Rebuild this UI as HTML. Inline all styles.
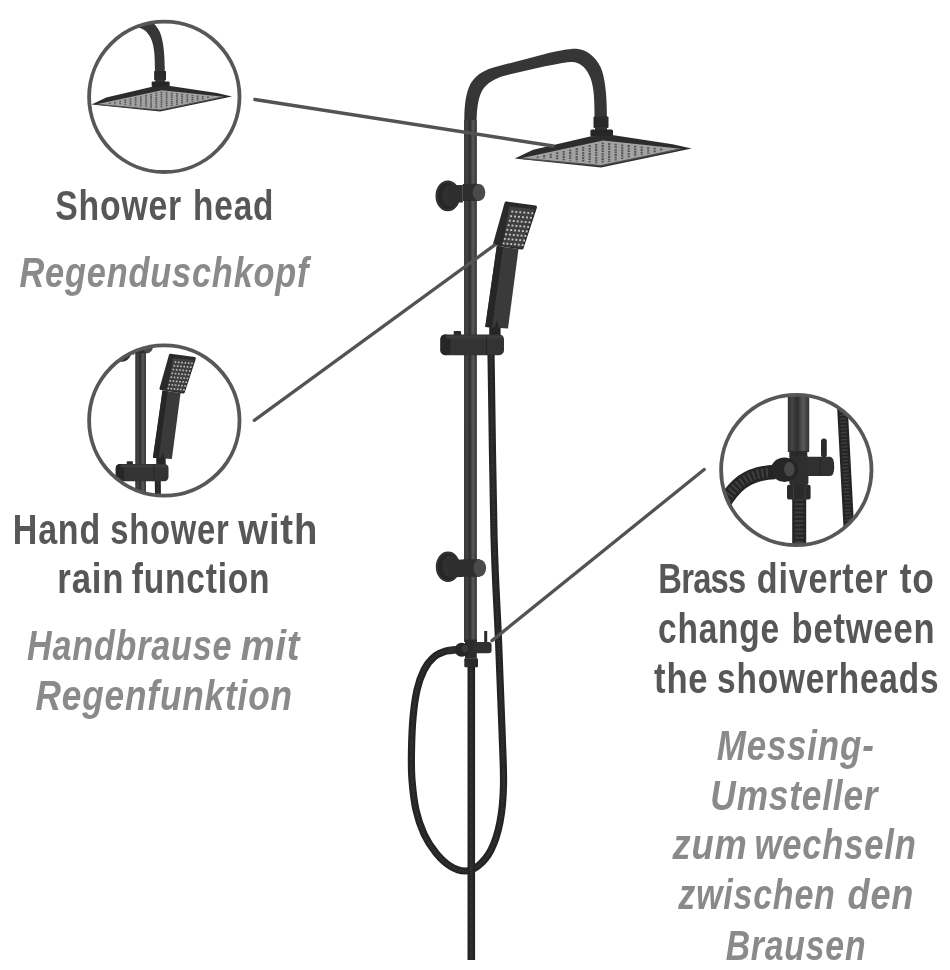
<!DOCTYPE html>
<html><head><meta charset="utf-8">
<style>
html,body{margin:0;padding:0;background:#fff;width:950px;height:970px;overflow:hidden}
svg{display:block;will-change:transform}
.b{font-family:"Liberation Sans",sans-serif;font-weight:bold;font-size:42px;fill:#575757}
.i{font-family:"Liberation Sans",sans-serif;font-style:italic;font-weight:bold;font-size:42px;fill:#8a8a8a}
</style></head>
<body>
<svg width="950" height="970" viewBox="0 0 950 970">
<defs>
  <linearGradient id="pipeg" x1="0" x2="1" y1="0" y2="0">
    <stop offset="0" stop-color="#303030"/>
    <stop offset="0.2" stop-color="#454545"/>
    <stop offset="0.45" stop-color="#2e2e2e"/>
    <stop offset="0.72" stop-color="#5a5a5a"/>
    <stop offset="0.92" stop-color="#3c3c3c"/>
    <stop offset="1" stop-color="#333333"/>
  </linearGradient>

  <g id="product">
   <g id="hoses">
    <!-- hoses -->
    <path d="M491.0,352.0 C491.5,382.5 492.8,487.0 494.0,535.0 C495.2,583.0 497.2,607.5 498.5,640.0 C499.8,672.5 501.2,705.8 502.0,730.0 C502.8,754.2 503.8,769.7 503.5,785.0 C503.2,800.3 502.1,811.2 500.0,822.0 C497.9,832.8 494.7,842.7 491.0,850.0 C487.3,857.3 482.3,862.5 478.0,866.0 C473.7,869.5 469.7,871.0 465.0,871.0 C460.3,871.0 454.8,869.0 450.0,866.0 C445.2,863.0 440.3,858.3 436.0,853.0 C431.7,847.7 427.3,841.2 424.0,834.0 C420.7,826.8 418.0,819.0 416.0,810.0 C414.0,801.0 412.8,790.0 412.0,780.0 C411.2,770.0 411.3,760.3 411.5,750.0 C411.7,739.7 412.1,728.0 413.0,718.0 C413.9,708.0 415.2,698.0 417.0,690.0 C418.8,682.0 421.2,675.5 424.0,670.0 C426.8,664.5 430.3,660.2 434.0,657.0 C437.7,653.8 442.2,652.2 446.0,651.0 C449.8,649.8 455.2,649.8 457.0,649.5" fill="none" stroke="#232323" stroke-width="7.2"/>
    <path d="M491.0,352.0 C491.5,382.5 492.8,487.0 494.0,535.0 C495.2,583.0 497.2,607.5 498.5,640.0 C499.8,672.5 501.2,705.8 502.0,730.0 C502.8,754.2 503.8,769.7 503.5,785.0 C503.2,800.3 502.1,811.2 500.0,822.0 C497.9,832.8 494.7,842.7 491.0,850.0 C487.3,857.3 482.3,862.5 478.0,866.0 C473.7,869.5 469.7,871.0 465.0,871.0 C460.3,871.0 454.8,869.0 450.0,866.0 C445.2,863.0 440.3,858.3 436.0,853.0 C431.7,847.7 427.3,841.2 424.0,834.0 C420.7,826.8 418.0,819.0 416.0,810.0 C414.0,801.0 412.8,790.0 412.0,780.0 C411.2,770.0 411.3,760.3 411.5,750.0 C411.7,739.7 412.1,728.0 413.0,718.0 C413.9,708.0 415.2,698.0 417.0,690.0 C418.8,682.0 421.2,675.5 424.0,670.0 C426.8,664.5 430.3,660.2 434.0,657.0 C437.7,653.8 442.2,652.2 446.0,651.0 C449.8,649.8 455.2,649.8 457.0,649.5" fill="none" stroke="#3c3c3c" stroke-width="3" stroke-dasharray="0.9 1.1" opacity="0.8"/>
    <path d="M471.3,664 L471.3,960" fill="none" stroke="#232323" stroke-width="7.6"/>
    <path d="M471.3,664 L471.3,960" fill="none" stroke="#3c3c3c" stroke-width="3" stroke-dasharray="0.9 1.1" opacity="0.8"/>
    <path d="M448,650.8 L458,649.6" stroke="#2e2e2e" stroke-width="7.4"/>
   </g>
   <g id="armhead">
    <!-- main pipe + arm -->
    <path d="M464.2,642 L464.3,120 C464.4,104 466,92 471,83 C477,74 485,69.5 497,66.5 L545,54 C558,51 568,48.8 576,48.8 C586,49.3 595,56 600.5,67 C605,77 606.9,94 606.9,117 L594.5,117 C594.5,99 594,88 590.5,78 C587,69 581,62.5 573,62 C566,62 557,64 545,66.3 L505.5,75.4 C495,78 487,83 482.5,90 C478.5,97 477,106 476.6,120 L476.6,642 Z" fill="#363636"/>
    <rect x="464.2" y="120" width="12.4" height="522" fill="url(#pipeg)"/>
    <!-- top nut -->
    <rect x="593.5" y="116.4" width="15" height="11.6" rx="1" fill="#2a2a2a"/>
    <rect x="595" y="127" width="12" height="4" fill="#333"/>
    <rect x="590.4" y="129.5" width="22.6" height="7" rx="1.5" fill="#262626"/>
    <!-- shower head -->
    <polygon points="514.7,158.5 533.2,149.7 591,136.2 613.7,135.2 672.6,144.2 691.6,148.4 601,167.4" fill="#2c2c2c"/>
    <polygon points="521,158.3 603,140.6 681,148.8 601,165.6" fill="#a2a2a2"/>
    <g stroke="#555555" stroke-width="2.2" stroke-dasharray="1.8 0.8">
<line x1="537.7" y1="156.5" x2="537.7" y2="157.8"/>
<line x1="544.2" y1="155.1" x2="544.2" y2="158.4"/>
<line x1="550.7" y1="153.7" x2="550.7" y2="159.0"/>
<line x1="557.2" y1="152.3" x2="557.2" y2="159.6"/>
<line x1="563.7" y1="150.9" x2="563.7" y2="160.2"/>
<line x1="570.2" y1="149.5" x2="570.2" y2="160.8"/>
<line x1="576.7" y1="148.1" x2="576.7" y2="161.4"/>
<line x1="583.2" y1="146.7" x2="583.2" y2="162.0"/>
<line x1="589.7" y1="145.3" x2="589.7" y2="162.6"/>
<line x1="596.2" y1="143.9" x2="596.2" y2="163.2"/>
<line x1="602.7" y1="142.5" x2="602.7" y2="163.2"/>
<line x1="609.2" y1="143.1" x2="609.2" y2="161.9"/>
<line x1="615.7" y1="143.7" x2="615.7" y2="160.5"/>
<line x1="622.2" y1="144.4" x2="622.2" y2="159.1"/>
<line x1="628.7" y1="145.1" x2="628.7" y2="157.8"/>
<line x1="635.2" y1="145.8" x2="635.2" y2="156.4"/>
<line x1="641.7" y1="146.5" x2="641.7" y2="155.1"/>
<line x1="648.2" y1="147.2" x2="648.2" y2="153.7"/>
<line x1="654.7" y1="147.8" x2="654.7" y2="152.3"/>
<line x1="661.2" y1="148.5" x2="661.2" y2="151.0"/>
    </g>
    <polyline points="521,158.3 601,165.6 681,148.8" fill="none" stroke="#505050" stroke-width="1.2"/>
   </g>
   <g id="rest">
    <!-- upper bracket -->
    <ellipse cx="447.8" cy="195.9" rx="12.3" ry="15.4" fill="#262626"/>
    <ellipse cx="447.8" cy="195.9" rx="11" ry="14" fill="none" stroke="#3c3c3c" stroke-width="1"/>
    <ellipse cx="450" cy="195.5" rx="8" ry="11" fill="#303030"/>
    <path d="M447.8,185.3 L462.8,185 L462.8,202.4 L447.8,202.6 Z" fill="#2e2e2e"/>
    <path d="M462.8,183.9 L479,183.9 L479,201 L462.8,201 Z" fill="#2e2e2e"/>
    <ellipse cx="479" cy="192.4" rx="6.3" ry="8.5" fill="#4a4a4a"/>
    <!-- lower bracket -->
    <ellipse cx="448" cy="566.8" rx="12.2" ry="15.3" fill="#262626"/>
    <ellipse cx="448" cy="566.8" rx="11" ry="14" fill="none" stroke="#3c3c3c" stroke-width="1"/>
    <ellipse cx="450.2" cy="566.4" rx="8" ry="11" fill="#303030"/>
    <path d="M448,559.8 L463,559.6 L463,577 L448,577.2 Z" fill="#2e2e2e"/>
    <path d="M463,559.2 L480,559.2 L480,576.8 L463,576.8 Z" fill="#2e2e2e"/>
    <ellipse cx="479.8" cy="568" rx="6.3" ry="8.6" fill="#4a4a4a"/>
    <!-- hand shower handle -->
    <rect x="489.2" y="326" width="11.4" height="13" fill="#262626"/>
    <polygon points="496.8,246 518.5,249 508,328.4 485.2,327" fill="#3a3a3a"/>
    <polygon points="496.8,246 503,246.8 492,327.6 485.2,327" fill="#262626"/>
    <path d="M494.5,328 L497,320 L499,328 Z" fill="#262626"/>
    <!-- hand shower head -->
    <path d="M506.5,201.6 L535.6,205.6 Q537.4,206 536.8,208 L523.5,248.3 Q523,249.8 521.5,249.6 L494.5,245.3 Q492.8,245 493.2,243.3 L504.5,203 Q505,201.4 506.5,201.6 Z" fill="#2a2a2a"/>
    <polygon points="509.4,206.6 534.5,209.2 522,247.8 502.6,245.2" fill="#404040"/>
    <rect x="511.35" y="210.65" width="1.9" height="1.9" fill="#c4c4c4"/>
<rect x="515.35" y="210.99" width="1.9" height="1.9" fill="#c4c4c4"/>
<rect x="519.35" y="211.33" width="1.9" height="1.9" fill="#c4c4c4"/>
<rect x="523.35" y="211.67" width="1.9" height="1.9" fill="#c4c4c4"/>
<rect x="527.35" y="212.01" width="1.9" height="1.9" fill="#c4c4c4"/>
<rect x="531.35" y="212.35" width="1.9" height="1.9" fill="#c4c4c4"/>
<rect x="510.11" y="215.19" width="1.9" height="1.9" fill="#c4c4c4"/>
<rect x="514.08" y="215.53" width="1.9" height="1.9" fill="#c4c4c4"/>
<rect x="518.05" y="215.87" width="1.9" height="1.9" fill="#c4c4c4"/>
<rect x="522.02" y="216.20" width="1.9" height="1.9" fill="#c4c4c4"/>
<rect x="525.99" y="216.54" width="1.9" height="1.9" fill="#c4c4c4"/>
<rect x="529.96" y="216.88" width="1.9" height="1.9" fill="#c4c4c4"/>
<rect x="508.86" y="219.74" width="1.9" height="1.9" fill="#c4c4c4"/>
<rect x="512.81" y="220.07" width="1.9" height="1.9" fill="#c4c4c4"/>
<rect x="516.75" y="220.40" width="1.9" height="1.9" fill="#c4c4c4"/>
<rect x="520.69" y="220.74" width="1.9" height="1.9" fill="#c4c4c4"/>
<rect x="524.64" y="221.07" width="1.9" height="1.9" fill="#c4c4c4"/>
<rect x="528.58" y="221.41" width="1.9" height="1.9" fill="#c4c4c4"/>
<rect x="507.62" y="224.28" width="1.9" height="1.9" fill="#c4c4c4"/>
<rect x="511.54" y="224.61" width="1.9" height="1.9" fill="#c4c4c4"/>
<rect x="515.45" y="224.94" width="1.9" height="1.9" fill="#c4c4c4"/>
<rect x="519.36" y="225.27" width="1.9" height="1.9" fill="#c4c4c4"/>
<rect x="523.28" y="225.60" width="1.9" height="1.9" fill="#c4c4c4"/>
<rect x="527.19" y="225.94" width="1.9" height="1.9" fill="#c4c4c4"/>
<rect x="506.38" y="228.82" width="1.9" height="1.9" fill="#c4c4c4"/>
<rect x="510.26" y="229.15" width="1.9" height="1.9" fill="#c4c4c4"/>
<rect x="514.15" y="229.48" width="1.9" height="1.9" fill="#c4c4c4"/>
<rect x="518.04" y="229.81" width="1.9" height="1.9" fill="#c4c4c4"/>
<rect x="521.92" y="230.14" width="1.9" height="1.9" fill="#c4c4c4"/>
<rect x="525.81" y="230.46" width="1.9" height="1.9" fill="#c4c4c4"/>
<rect x="505.14" y="233.36" width="1.9" height="1.9" fill="#c4c4c4"/>
<rect x="508.99" y="233.69" width="1.9" height="1.9" fill="#c4c4c4"/>
<rect x="512.85" y="234.02" width="1.9" height="1.9" fill="#c4c4c4"/>
<rect x="516.71" y="234.34" width="1.9" height="1.9" fill="#c4c4c4"/>
<rect x="520.56" y="234.67" width="1.9" height="1.9" fill="#c4c4c4"/>
<rect x="524.42" y="234.99" width="1.9" height="1.9" fill="#c4c4c4"/>
<rect x="503.89" y="237.91" width="1.9" height="1.9" fill="#c4c4c4"/>
<rect x="507.72" y="238.23" width="1.9" height="1.9" fill="#c4c4c4"/>
<rect x="511.55" y="238.55" width="1.9" height="1.9" fill="#c4c4c4"/>
<rect x="515.38" y="238.88" width="1.9" height="1.9" fill="#c4c4c4"/>
<rect x="519.21" y="239.20" width="1.9" height="1.9" fill="#c4c4c4"/>
<rect x="523.04" y="239.52" width="1.9" height="1.9" fill="#c4c4c4"/>
<rect x="502.65" y="242.45" width="1.9" height="1.9" fill="#c4c4c4"/>
<rect x="506.45" y="242.77" width="1.9" height="1.9" fill="#c4c4c4"/>
<rect x="510.25" y="243.09" width="1.9" height="1.9" fill="#c4c4c4"/>
<rect x="514.05" y="243.41" width="1.9" height="1.9" fill="#c4c4c4"/>
<rect x="517.85" y="243.73" width="1.9" height="1.9" fill="#c4c4c4"/>
<rect x="521.65" y="244.05" width="1.9" height="1.9" fill="#c4c4c4"/>
    <!-- holder -->
    <rect x="453.7" y="331" width="7.4" height="5" rx="1" fill="#2a2a2a"/>
    <rect x="440.4" y="334.4" width="63.6" height="20.8" rx="5" fill="#333333"/>
    <rect x="440.4" y="334.4" width="10" height="20.8" rx="5" fill="#262626"/>
    <rect x="446" y="335.5" width="56" height="3" fill="#3d3d3d"/>
    <line x1="486.6" y1="335" x2="486.6" y2="355" stroke="#262626" stroke-width="1"/>
    <!-- diverter -->
    <rect x="484.2" y="631" width="3" height="12" fill="#2a2a2a"/>
    <rect x="465" y="639.5" width="11.8" height="19" fill="#2c2c2c"/>
    <rect x="474" y="642" width="17.6" height="11.2" rx="3" fill="#303030"/>
    <ellipse cx="461.7" cy="649.8" rx="7" ry="7" fill="#262626"/>
    <ellipse cx="465" cy="648.7" rx="3.2" ry="3.7" fill="#3a3a3a"/>
    <rect x="464.3" y="658.3" width="13.7" height="9" rx="1" fill="#2a2a2a"/>
   </g>
  </g>

  <g id="c3content">
    <!-- right hose -->
    <path d="M841.5,390 L850,550" fill="none" stroke="#242424" stroke-width="10.6"/>
    <path d="M841.5,390 L850,550" fill="none" stroke="#3c3c3c" stroke-width="6" stroke-dasharray="1.6 1.9"/>
    <!-- bottom hose -->
    <path d="M799.2,499 L799.2,550" fill="none" stroke="#242424" stroke-width="14"/>
    <path d="M799.2,499 L799.2,550" fill="none" stroke="#3c3c3c" stroke-width="9" stroke-dasharray="2 2.2"/>
    <!-- left hose -->
    <path d="M775,472 C764,472.5 752,475 742,482 C734,488 728,496 722,506" fill="none" stroke="#242424" stroke-width="14.5"/>
    <path d="M768,472.5 C760,473 752,475 742,482 C734,488 728,496 722,506" fill="none" stroke="#3e3e3e" stroke-width="9.5" stroke-dasharray="2.2 2.3"/>
    <!-- pipe -->
    <rect x="787.8" y="380" width="21.4" height="72" fill="url(#pipeg)"/>
    <rect x="789.3" y="451" width="18" height="6" fill="#2a2a2a"/>
    <!-- body -->
    <rect x="789.3" y="456" width="19.1" height="29" rx="2" fill="#2e2e2e"/>
    <path d="M807,456.8 L830,456.8 Q834.2,457 834.2,466.4 Q834.2,476 830,476 L807,476 Z" fill="#303030"/>
    <line x1="820.2" y1="457" x2="820.2" y2="476" stroke="#252525" stroke-width="1"/>
    <rect x="821" y="438.4" width="5.8" height="19" rx="2.9" fill="#2a2a2a"/>
    <!-- left nut -->
    <ellipse cx="784.5" cy="469.7" rx="13.6" ry="12.2" fill="#262626"/>
    <ellipse cx="789.3" cy="469.3" rx="5.2" ry="7.3" fill="#484848"/>
    <!-- bottom nut -->
    <rect x="787" y="484.8" width="23.6" height="14.8" rx="2" fill="#2a2a2a"/>
    <line x1="793.5" y1="485" x2="793.5" y2="499.5" stroke="#3e3e3e" stroke-width="1"/>
    <line x1="805" y1="485" x2="805" y2="499.5" stroke="#3e3e3e" stroke-width="1"/>
  </g>

  <clipPath id="c1"><circle cx="164.3" cy="96.8" r="75"/></clipPath>
  <clipPath id="c2"><circle cx="164.3" cy="420.5" r="75"/></clipPath>
  <clipPath id="c3"><circle cx="796.3" cy="470" r="75"/></clipPath>
</defs>

<use href="#product"/>

<g clip-path="url(#c1)"><use href="#armhead" transform="translate(-317.1,-21.4) scale(0.794)"/></g>
<g clip-path="url(#c2)"><use href="#product" transform="translate(-249.8,186.4) scale(0.83)"/></g>
<g clip-path="url(#c3)"><use href="#c3content"/></g>

<g fill="none" stroke="#575757" stroke-width="3.8">
  <circle cx="164.3" cy="96.8" r="75.2"/>
  <circle cx="164.3" cy="420.5" r="75.2"/>
  <circle cx="796.3" cy="470" r="75.2"/>
</g>
<g stroke="#535353" stroke-width="3.3" stroke-linecap="round">
  <line x1="254.8" y1="99.5" x2="553.2" y2="146"/>
  <line x1="254.3" y1="420.3" x2="494.5" y2="245.2"/>
  <line x1="704.2" y1="469.5" x2="492" y2="640.6"/>
</g>

<g class="b" text-anchor="middle">
<text transform="translate(118.24,220.4) scale(0.805,1)" textLength="156.67" lengthAdjust="spacing">Shower</text>
<text transform="translate(233.24,220.4) scale(0.795,1)" textLength="101.05" lengthAdjust="spacing">head</text>
<text transform="translate(56.50,543.5) scale(0.809,1)" textLength="107.97" lengthAdjust="spacing">Hand</text>
<text transform="translate(169.41,543.5) scale(0.780,1)" textLength="151.92" lengthAdjust="spacing">shower</text>
<text transform="translate(277.82,543.5) scale(0.912,1)" textLength="86.62" lengthAdjust="spacing">with</text>
<text transform="translate(90.43,593.4) scale(0.828,1)" textLength="79.93" lengthAdjust="spacing">rain</text>
<text transform="translate(200.66,593.4) scale(0.799,1)" textLength="172.63" lengthAdjust="spacing">function</text>
<text transform="translate(702.29,592.9) scale(0.780,1)" textLength="112.74" lengthAdjust="spacing">Brass</text>
<text transform="translate(822.10,592.9) scale(0.812,1)" textLength="160.97" lengthAdjust="spacing">diverter</text>
<text transform="translate(916.71,592.9) scale(0.839,1)" textLength="40.61" lengthAdjust="spacing">to</text>
<text transform="translate(718.62,643.1) scale(0.797,1)" textLength="152.07" lengthAdjust="spacing">change</text>
<text transform="translate(863.07,643.1) scale(0.822,1)" textLength="173.89" lengthAdjust="spacing">between</text>
<text transform="translate(680.83,692.6) scale(0.824,1)" textLength="64.94" lengthAdjust="spacing">the</text>
<text transform="translate(827.81,692.6) scale(0.795,1)" textLength="278.50" lengthAdjust="spacing">showerheads</text>
</g>
<g class="i" text-anchor="middle">
<text transform="translate(164.02,286.7) scale(0.818,1)" textLength="353.42" lengthAdjust="spacing">Regenduschkopf</text>
<text transform="translate(129.26,660.4) scale(0.812,1)" textLength="251.60" lengthAdjust="spacing">Handbrause</text>
<text transform="translate(270.13,660.4) scale(0.910,1)" textLength="64.76" lengthAdjust="spacing">mit</text>
<text transform="translate(163.83,710.3) scale(0.840,1)" textLength="305.41" lengthAdjust="spacing">Regenfunktion</text>
<text transform="translate(795.26,760.0) scale(0.832,1)" textLength="188.77" lengthAdjust="spacing">Messing-</text>
<text transform="translate(793.95,810.2) scale(0.840,1)" textLength="199.04" lengthAdjust="spacing">Umsteller</text>
<text transform="translate(709.73,859.2) scale(0.865,1)" textLength="85.85" lengthAdjust="spacing">zum</text>
<text transform="translate(835.17,859.2) scale(0.824,1)" textLength="195.89" lengthAdjust="spacing">wechseln</text>
<text transform="translate(756.54,909.4) scale(0.809,1)" textLength="193.66" lengthAdjust="spacing">zwischen</text>
<text transform="translate(880.45,909.4) scale(0.861,1)" textLength="76.53" lengthAdjust="spacing">den</text>
<text transform="translate(795.59,959.7) scale(0.804,1)" textLength="174.03" lengthAdjust="spacing">Brausen</text>
</g>
</svg>
</body></html>
